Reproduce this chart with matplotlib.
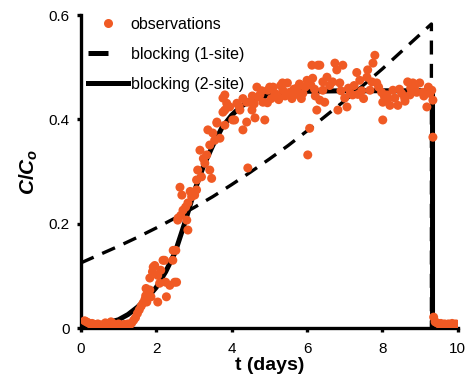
import numpy as np
import matplotlib.pyplot as plt
from matplotlib.lines import Line2D

plt.rcParams['font.family'] = ['Liberation Sans', 'DejaVu Sans']
plt.rcParams['mathtext.fontset'] = 'custom'
plt.rcParams['mathtext.it'] = 'Liberation Sans:italic:bold'
plt.rcParams['mathtext.rm'] = 'Liberation Sans:bold'

# breakthrough observations (t in days, C/Co)
t_obs = [
    # baseline
    0.10, 0.15, 0.20, 0.25, 0.30, 0.35, 0.40, 0.45, 0.50, 0.55, 0.60, 0.65, 0.70,
    0.75, 0.80, 0.85, 0.90, 0.95, 1.00, 1.05, 1.10, 1.15, 1.20, 1.25, 1.30,
    # onset
    1.35, 1.40, 1.45, 1.50, 1.55, 1.60, 1.65, 1.70, 1.72, 1.75,
    1.83, 1.90, 1.96, 2.04, 2.12, 2.22, 2.44, 2.52, 2.25, 2.36, 2.49, 2.27,
    2.04, 1.86, 1.73, 1.83, 2.09, 1.92, 2.18, 2.45, 2.54,
    # rising limb
    2.57, 2.65, 2.78, 2.84, 2.58, 2.71, 2.84, 2.94, 3.07, 3.07, 3.20, 3.47,
    3.42, 3.10, 3.29, 3.34, 3.16, 3.42, 3.50, 3.69, 3.61, 3.37, 3.82, 3.77,
    3.82, 3.87, 2.63, 2.81, 2.68, 3.02, 2.90, 3.25, 3.55,
    # approach to plateau
    3.61, 3.77, 4.14, 4.40, 4.54, 4.67, 4.75, 4.88, 4.62, 4.96, 5.20, 5.36,
    5.54, 5.73, 5.89, 6.13, 6.29, 6.15, 6.42, 6.34, 6.26, 6.07, 3.95, 4.22,
    4.40, 4.03, 4.83, 3.82, 4.48, 4.70, 5.01, 4.30, 4.08, 4.43, 6.02,
    4.20, 4.30, 4.55, 4.60, 4.80, 5.05, 5.10, 5.15, 5.25, 5.30, 5.42, 5.48,
    5.60, 5.65, 5.80, 5.85, 5.95, 6.00, 6.20, 6.22, 4.95, 5.35, 5.70, 6.10,
    # plateau
    6.34, 6.74, 6.79, 6.95, 6.53, 6.68, 6.87, 6.42, 6.47, 6.82, 7.00, 7.06,
    7.21, 7.32, 7.40, 7.59, 7.61, 7.75, 7.80, 7.72, 7.85, 7.67, 7.98, 8.01,
    8.12, 8.20, 8.01, 8.33, 8.41, 8.51, 8.59, 8.67, 8.81, 8.99, 8.91, 9.07,
    9.18, 9.26, 9.34, 9.31, 9.34, 8.73, 8.28, 7.10, 7.15, 7.25, 7.45, 7.50,
    7.90, 8.05, 8.45, 8.60, 8.85, 9.10, 9.22, 6.60, 6.90, 7.35, 8.15, 8.75,
    # after source shut-off
    9.36, 9.40, 9.45, 9.50, 9.55, 9.60, 9.65, 9.70, 9.75, 9.80, 9.85, 9.90,
    9.95, 10.0,
]
c_obs = [
    0.014, 0.012, 0.010, 0.008, 0.009, 0.007, 0.006, 0.008, 0.006, 0.005, 0.007, 0.010, 0.006,
    0.008, 0.012, 0.009, 0.005, 0.004, 0.008, 0.006, 0.004, 0.007, 0.005, 0.008, 0.006,
    0.010, 0.015, 0.020, 0.028, 0.035, 0.042, 0.048, 0.055, 0.062, 0.050,
    0.096, 0.108, 0.120, 0.101, 0.111, 0.130, 0.130, 0.149, 0.088, 0.082, 0.088, 0.060,
    0.050, 0.060, 0.076, 0.073, 0.086, 0.117, 0.130, 0.149, 0.088,
    0.207, 0.216, 0.232, 0.188, 0.211, 0.226, 0.240, 0.252, 0.265, 0.284, 0.290, 0.287,
    0.303, 0.303, 0.316, 0.332, 0.341, 0.351, 0.374, 0.364, 0.393, 0.380, 0.389, 0.414,
    0.447, 0.431, 0.270, 0.207, 0.255, 0.255, 0.262, 0.325, 0.360,
    0.395, 0.441, 0.431, 0.433, 0.418, 0.462, 0.447, 0.399, 0.403, 0.456, 0.447, 0.456,
    0.452, 0.460, 0.450, 0.504, 0.504, 0.479, 0.472, 0.437, 0.418, 0.383, 0.424, 0.418,
    0.395, 0.399, 0.433, 0.418, 0.433, 0.443, 0.462, 0.380, 0.399, 0.307, 0.332,
    0.425, 0.440, 0.445, 0.430, 0.455, 0.440, 0.462, 0.450, 0.438, 0.465, 0.445, 0.470,
    0.440, 0.458, 0.468, 0.440, 0.462, 0.475, 0.458, 0.445, 0.432, 0.470, 0.448, 0.466,
    0.504, 0.508, 0.495, 0.504, 0.481, 0.472, 0.470, 0.456, 0.433, 0.418, 0.441, 0.424,
    0.447, 0.490, 0.475, 0.481, 0.495, 0.508, 0.523, 0.472, 0.470, 0.456, 0.452, 0.433,
    0.447, 0.427, 0.399, 0.441, 0.427, 0.450, 0.441, 0.472, 0.470, 0.470, 0.452, 0.452,
    0.424, 0.450, 0.437, 0.456, 0.366, 0.447, 0.456, 0.460, 0.450, 0.465, 0.455, 0.440,
    0.462, 0.445, 0.458, 0.435, 0.460, 0.445, 0.462, 0.465, 0.455, 0.448, 0.440, 0.460,
    0.021, 0.012, 0.010, 0.008, 0.009, 0.007, 0.008, 0.006, 0.008, 0.007, 0.009, 0.006,
    0.008, 0.007,
]

# one-site blocking model
t_one = [0.0, 0.5, 1.0, 1.5, 2.0, 2.5, 3.0, 3.5, 4.0, 4.5, 5.0, 5.5, 6.0,
         6.5, 7.0, 7.5, 8.0, 8.5, 9.0, 9.3, 9.3]
c_one = [0.125, 0.141, 0.157, 0.174, 0.192, 0.211, 0.231, 0.252, 0.275, 0.299,
         0.324, 0.350, 0.378, 0.407, 0.436, 0.466, 0.497, 0.530, 0.563, 0.583, 0.0]

# two-site blocking model
t_two = [0.1, 0.5, 1.0, 1.25, 1.5, 1.75, 2.0, 2.25, 2.5, 2.75, 3.0, 3.25, 3.5,
         3.75, 4.0, 4.25, 4.5, 5.0, 5.5, 6.0, 7.0, 8.0, 9.0, 9.33, 9.33]
c_two = [0.002, 0.006, 0.016, 0.026, 0.040, 0.057, 0.078, 0.108, 0.145, 0.200,
         0.260, 0.310, 0.350, 0.385, 0.408, 0.425, 0.436, 0.447, 0.452, 0.454,
         0.455, 0.455, 0.455, 0.455, 0.0]

orange = '#F05A24'

fig = plt.figure(figsize=(4.7, 3.78), dpi=100)
ax = fig.add_axes([0.172, 0.132, 0.802, 0.828])

ax.plot(t_one, c_one, color='black', lw=2.4, dashes=(4.2, 2.8), zorder=2)
ax.plot(t_two, c_two, color='black', lw=3.6, solid_joinstyle='miter', zorder=2)
ax.scatter(t_obs, c_obs, s=42, color=orange, edgecolors='none', zorder=3)

ax.set_xlim(0, 10)
ax.set_ylim(0, 0.6)
ax.set_xticks([0, 2, 4, 6, 8, 10])
ax.set_yticks([0, 0.2, 0.4, 0.6])
ax.set_yticklabels(['0', '0.2', '0.4', '0.6'])
for s in ['top', 'right']:
    ax.spines[s].set_visible(False)
for s in ['left', 'bottom']:
    ax.spines[s].set_linewidth(2.4)
ax.tick_params(width=2.4, length=3, labelsize=11)
ax.tick_params(axis='x', pad=7)
ax.tick_params(axis='y', pad=5)

ax.set_xlabel('t (days)', fontsize=14, fontweight='bold', labelpad=1)
ax.set_ylabel(r'$C/C_o$', fontsize=15, labelpad=6)

handles = [
    Line2D([], [], ls='none', marker='o', ms=6.5, color=orange, mec='none'),
    Line2D([], [], color='black', lw=3.6, dashes=(4.0, 10)),
    Line2D([], [], color='black', lw=3.6),
]
ax.legend(handles, ['observations', 'blocking (1-site)', 'blocking (2-site)'],
          loc='upper left', bbox_to_anchor=(0.02, 0.995), frameon=False,
          fontsize=11.5, handlelength=2.5, handletextpad=0.15,
          labelspacing=0.95, borderpad=0, borderaxespad=0)

fig.savefig('out.png', dpi=100)
